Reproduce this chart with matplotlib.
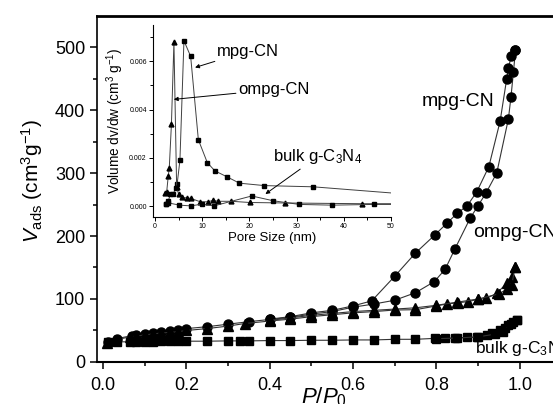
import matplotlib
matplotlib.use("Agg")
import matplotlib.pyplot as plt
from matplotlib.ticker import MultipleLocator, FormatStrFormatter

plt.rcParams['font.family'] = ['Liberation Sans', 'DejaVu Sans']
plt.rcParams['mathtext.fontset'] = 'custom'
plt.rcParams['mathtext.rm'] = 'Liberation Sans'
plt.rcParams['mathtext.it'] = 'Liberation Sans:italic'

# main isotherms: relative pressure P/P0 vs adsorbed volume
mpg_ads_p = [0.012, 0.033, 0.07, 0.08, 0.1, 0.12, 0.14, 0.16, 0.18, 0.2, 0.25, 0.3, 0.35, 0.4,
             0.45, 0.5, 0.55, 0.6, 0.65, 0.7, 0.75, 0.795, 0.821, 0.845, 0.881, 0.90, 0.919,
             0.945, 0.973, 0.979, 0.985, 0.99]
mpg_ads_v = [32, 37, 42, 43, 45, 46.5, 48, 49, 50.5, 53, 56, 60, 64, 67.5, 71, 76, 80, 87, 92,
             98, 110, 127.5, 147, 180, 228, 248, 268, 300, 386, 420, 460, 495]
mpg_des_p = [0.99, 0.98, 0.973, 0.969, 0.953, 0.926, 0.897, 0.874, 0.85, 0.825, 0.797, 0.75,
             0.70, 0.645, 0.6, 0.55, 0.5, 0.45, 0.4]
mpg_des_v = [495, 486, 467, 450, 382, 310, 270, 248, 236, 220, 202, 173, 136, 97, 89, 82, 78,
             72, 68]

ompg_ads_p = [0.01, 0.03, 0.065, 0.08, 0.1, 0.12, 0.14, 0.16, 0.18, 0.2, 0.25, 0.3, 0.34, 0.4,
              0.45, 0.5, 0.55, 0.6, 0.65, 0.7, 0.75, 0.8, 0.825, 0.853, 0.877, 0.9, 0.92, 0.945,
              0.969, 0.981, 0.989]
ompg_ads_v = [30, 35, 40, 41, 43, 44.5, 46, 47, 48, 50, 53, 57, 61, 65, 68, 72, 75, 78, 80,
              82.5, 83, 89, 92, 94, 96, 99.5, 101, 109, 125, 135, 151]
ompg_des_p = [0.989, 0.981, 0.97, 0.95, 0.9, 0.85, 0.8, 0.75, 0.7, 0.65, 0.6, 0.55, 0.5, 0.45, 0.4]
ompg_des_v = [151, 122, 116, 108, 100, 95, 90, 86, 84, 82, 80, 77, 74, 70, 66]

bulk_ads_p = [0.012, 0.033, 0.065, 0.08, 0.1, 0.12, 0.14, 0.16, 0.18, 0.2, 0.25, 0.3, 0.33,
              0.35, 0.4, 0.45, 0.5, 0.55, 0.6, 0.65, 0.7, 0.75, 0.797, 0.821, 0.845, 0.873,
              0.897, 0.921, 0.933, 0.953, 0.965, 0.973, 0.985, 0.993]
bulk_ads_v = [31, 32, 32, 32.5, 32.5, 32.5, 33, 33, 33, 33, 33, 33.5, 33.5, 33.5, 34, 34, 34.5,
              34.5, 35, 35, 36, 36, 37.5, 37.5, 38, 39, 39, 43, 46.5, 51, 53.5, 58.7, 64, 66.7]
bulk_des_p = [0.993, 0.98, 0.96, 0.94, 0.9, 0.85, 0.8]
bulk_des_v = [66.7, 60, 48, 44, 40, 38, 37]

# inset: pore size distribution
pore_mpg_x = [2.3, 2.8, 3.3, 3.8, 4.46, 4.7, 5.3, 6.15, 7.57, 9.2, 11.1, 12.7, 15.2, 17.9,
              23.2, 33.5, 53]
pore_mpg_y = [0.0001, 0.0002, 0.0005, 0.0005, 0.00074, 0.0009, 0.0019, 0.00685, 0.0062,
              0.00275, 0.0018, 0.00146, 0.00122, 0.00095, 0.00085, 0.0008, 0.0005]
pore_ompg_x = [2.12, 2.5, 2.83, 3.04, 3.5, 4.03, 4.6, 5.0, 5.7, 6.8, 7.6, 9.6, 11.3, 12.3,
               13.4, 16.2, 20.1, 27.6, 43.9, 55]
pore_ompg_y = [0.00055, 0.0006, 0.00125, 0.00157, 0.0034, 0.0068, 0.0008, 0.0005, 0.00036,
               0.00034, 0.00032, 0.00018, 0.00018, 0.00024, 0.0002, 0.0002, 0.00015, 0.00013,
               0.0001, 0.0001]
pore_bulk_x = [2.33, 2.7, 5.2, 7.6, 9.9, 12.5, 20.5, 25.1, 30.6, 37.5, 46.3, 55]
pore_bulk_y = [0.00008, 0.00014, 0.00004, 0.00001, 0.00008, 0.00001, 0.00042, 0.00022,
               0.00007, 0.00004, 0.00007, 0.00007]

fig = plt.figure(figsize=(5.53, 4.04), dpi=100)
ax = fig.add_axes([0.1754, 0.104, 0.8246, 0.856])

lc = '0.2'
kw = dict(color=lc, lw=0.8, mfc='k', mec='k')
ax.plot(mpg_ads_p, mpg_ads_v, marker='o', ms=6.5, **kw)
ax.plot(mpg_des_p, mpg_des_v, marker='o', ms=6.5, **kw)
ax.plot(ompg_ads_p, ompg_ads_v, marker='^', ms=6.5, **kw)
ax.plot(ompg_des_p, ompg_des_v, marker='^', ms=6.5, **kw)
ax.plot(bulk_ads_p, bulk_ads_v, marker='s', ms=5.5, **kw)
ax.plot(bulk_des_p, bulk_des_v, marker='s', ms=5.5, **kw)

ax.set_xlim(-0.0144, 1.08)
ax.set_ylim(0, 549)
ax.xaxis.set_major_locator(MultipleLocator(0.2))
ax.xaxis.set_minor_locator(MultipleLocator(0.1))
ax.xaxis.set_major_formatter(FormatStrFormatter('%.1f'))
ax.yaxis.set_major_locator(MultipleLocator(100))
ax.yaxis.set_minor_locator(MultipleLocator(50))
ax.tick_params(which='both', direction='out', labelsize=13, width=1.1)
ax.tick_params(which='major', length=5)
ax.tick_params(which='minor', length=3)
ax.tick_params(axis='x', pad=6)
ax.spines['right'].set_visible(False)
ax.spines['top'].set_linewidth(2)
ax.spines['left'].set_linewidth(1.2)
ax.spines['bottom'].set_linewidth(1.5)

ax.text(0.852, 413, 'mpg-CN', fontsize=14, ha='center', va='center')
ax.text(0.888, 205, 'ompg-CN', fontsize=14, ha='left', va='center')
ax.text(0.893, 22, r'bulk g-C$_3$N$_4$', fontsize=12.5, ha='left', va='center')

fig.text(0.058, 0.552, r'$V_{\rm ads}$ (cm$^3$g$^{-1}$)', rotation=90, fontsize=15,
         ha='center', va='center')
fig.text(0.545, 0.018, r'$P/P_0$', fontsize=16, ha='left', va='center')

# inset
ins = fig.add_axes([0.2767, 0.4629, 0.4304, 0.4752])
ins.set_facecolor('white')
ikw = dict(color='0.25', lw=0.7, mfc='k', mec='k')
ins.plot(pore_mpg_x, pore_mpg_y, marker='s', ms=3, **ikw)
ins.plot(pore_ompg_x, pore_ompg_y, marker='^', ms=3.5, **ikw)
ins.plot(pore_bulk_x, pore_bulk_y, marker='s', ms=3, **ikw)
ins.set_xlim(-0.4, 50)
ins.set_ylim(-0.00045, 0.0075)
ins.xaxis.set_major_locator(MultipleLocator(10))
ins.xaxis.set_minor_locator(MultipleLocator(5))
ins.yaxis.set_major_locator(MultipleLocator(0.002))
ins.yaxis.set_minor_locator(MultipleLocator(0.001))
ins.yaxis.set_major_formatter(FormatStrFormatter('%.3f'))
ins.tick_params(which='both', direction='out', labelsize=5, width=0.7, pad=1.5)
ins.tick_params(which='major', length=3)
ins.tick_params(which='minor', length=2)
ins.spines['top'].set_visible(False)
ins.spines['right'].set_visible(False)
ins.spines['left'].set_linewidth(0.8)
ins.spines['bottom'].set_linewidth(0.8)
ins.set_xlabel('Pore Size (nm)', fontsize=9.5, labelpad=1)
ins.set_ylabel(r'Volume dv/dw (cm$^3$ g$^{-1}$)', fontsize=9.8, labelpad=2)

akw = dict(arrowstyle='-|>', color='k', lw=0.7, mutation_scale=6, shrinkA=0, shrinkB=0)
ins.annotate('mpg-CN', xy=(8.5, 0.00574), xytext=(19.7, 0.00642), fontsize=12,
             ha='center', va='center', arrowprops=akw)
ins.annotate('ompg-CN', xy=(4.0, 0.00442), xytext=(25.3, 0.00483), fontsize=12,
             ha='center', va='center', arrowprops=akw)
ins.annotate(r'bulk g-C$_3$N$_4$', xy=(23.4, 0.0005), xytext=(34.4, 0.00204), fontsize=12,
             ha='center', va='center', arrowprops=akw)

fig.savefig('out.png', dpi=100)
